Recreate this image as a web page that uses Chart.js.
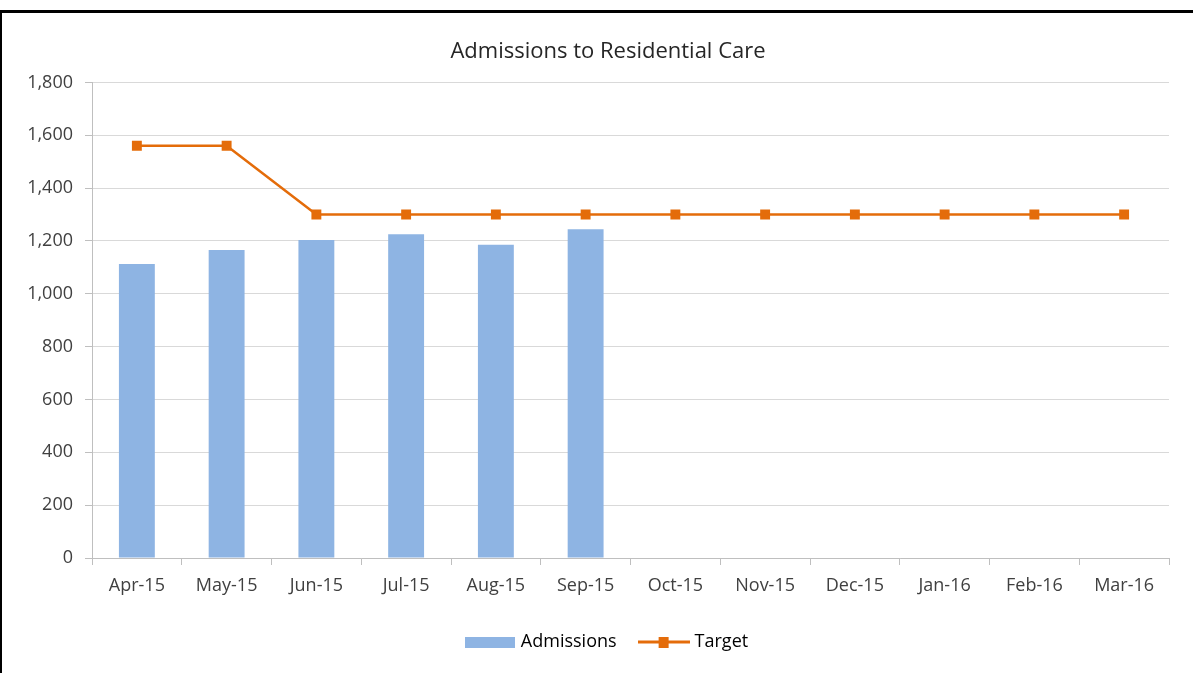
<!DOCTYPE html>
<html>
<head>
<meta charset="utf-8">
<script src="https://cdn.jsdelivr.net/npm/chart.js@4/dist/chart.umd.min.js"></script>
<style>
    html, body { margin: 0; padding: 0; background: #fff; }
    #wrap { position: absolute; left: 0; top: 0; width: 1193px; height: 673px; }
    #frame {
        position: absolute; left: 0; top: 10px; width: 1193px; height: 663px;
        border-top: 3px solid #000; border-left: 2px solid #000;
        box-sizing: border-box; pointer-events: none;
    }
</style>
</head>
<body>
<div id="wrap"><canvas id="chart" width="1193" height="673"></canvas></div>
<div id="frame"></div>
<script>
// Dados
const months = ['Apr-15', 'May-15', 'Jun-15', 'Jul-15', 'Aug-15', 'Sep-15',
                'Oct-15', 'Nov-15', 'Dec-15', 'Jan-16', 'Feb-16', 'Mar-16'];
const admissions = [1113, 1166, 1204, 1225, 1186, 1244, null, null, null, null, null, null];
const target = [1560, 1560, 1300, 1300, 1300, 1300, 1300, 1300, 1300, 1300, 1300, 1300];
const yTicks = [0, 200, 400, 600, 800, 1000, 1200, 1400, 1600, 1800];

const COLORS = {
    bar: '#8eb4e3',
    line: '#e46c0a',
    text: '#404040',
    grid: '#d9d9d9',
    axis: '#bfbfbf'
};

Chart.defaults.font.family = "'Open Sans', 'Noto Sans', sans-serif";
Chart.defaults.color = COLORS.text;

// Ícones da legenda (estilo Excel)
function barIcon() {
    const c = document.createElement('canvas');
    c.width = 50; c.height = 11;
    const g = c.getContext('2d');
    g.fillStyle = COLORS.bar;
    g.fillRect(0, 0, 50, 11);
    return c;
}
function lineIcon() {
    const c = document.createElement('canvas');
    c.width = 52; c.height = 11;
    const g = c.getContext('2d');
    g.fillStyle = COLORS.line;
    g.fillRect(0, 4, 52, 3);
    g.fillRect(21, 0, 10, 11);
    return c;
}

const ctx = document.getElementById('chart').getContext('2d');

new Chart(ctx, {
    type: 'bar',
    data: {
        labels: months,
        datasets: [
            {
                type: 'line',
                label: 'Target',
                data: target,
                borderColor: COLORS.line,
                backgroundColor: COLORS.line,
                borderWidth: 2.5,
                pointStyle: 'rect',
                pointRadius: 7,
                pointBorderWidth: 0,
                tension: 0,
                order: 0
            },
            {
                label: 'Admissions',
                data: admissions,
                backgroundColor: COLORS.bar,
                categoryPercentage: 1,
                barPercentage: 0.4,
                order: 1
            }
        ]
    },
    options: {
        responsive: false,
        animation: false,
        layout: {
            padding: { left: 47, right: 24, top: 13, bottom: 12 }
        },
        plugins: {
            title: {
                display: true,
                text: 'Admissions to Residential Care',
                font: { size: 22, weight: 'normal' },
                color: '#262626',
                padding: { top: 26, bottom: 17 }
            },
            legend: {
                position: 'bottom',
                labels: {
                    usePointStyle: true,
                    pointStyleWidth: 44,
                    padding: 25,
                    font: { size: 18 },
                    color: COLORS.text,
                    generateLabels: () => [
                        { text: 'Admissions', pointStyle: barIcon(), datasetIndex: 1, lineWidth: 0 },
                        { text: 'Target', pointStyle: lineIcon(), datasetIndex: 0, lineWidth: 0 }
                    ]
                }
            },
            tooltip: { enabled: false }
        },
        scales: {
            x: {
                offset: true,
                grid: {
                    offset: true,
                    drawOnChartArea: false,
                    drawTicks: true,
                    tickLength: 7,
                    color: COLORS.axis
                },
                border: { color: COLORS.axis },
                ticks: {
                    font: { size: 18 },
                    padding: 10,
                    maxRotation: 0,
                    autoSkip: false
                },
                afterFit: (scale) => { scale.height = 50; }
            },
            y: {
                min: 0,
                max: 1800,
                afterBuildTicks: (scale) => {
                    scale.ticks = yTicks.map(v => ({ value: v }));
                },
                grid: {
                    color: COLORS.grid,
                    tickColor: COLORS.axis,
                    tickLength: 7
                },
                border: { color: COLORS.axis },
                ticks: {
                    font: { size: 18 },
                    padding: 12,
                    callback: (v) => v.toLocaleString('en-US')
                },
                afterFit: (scale) => {
                    scale.width = 45;
                    // rótulos passam da largura do eixo: sem recorte
                    scale._computeLabelArea = () => null;
                }
            }
        }
    }
});
</script>
</body>
</html>
